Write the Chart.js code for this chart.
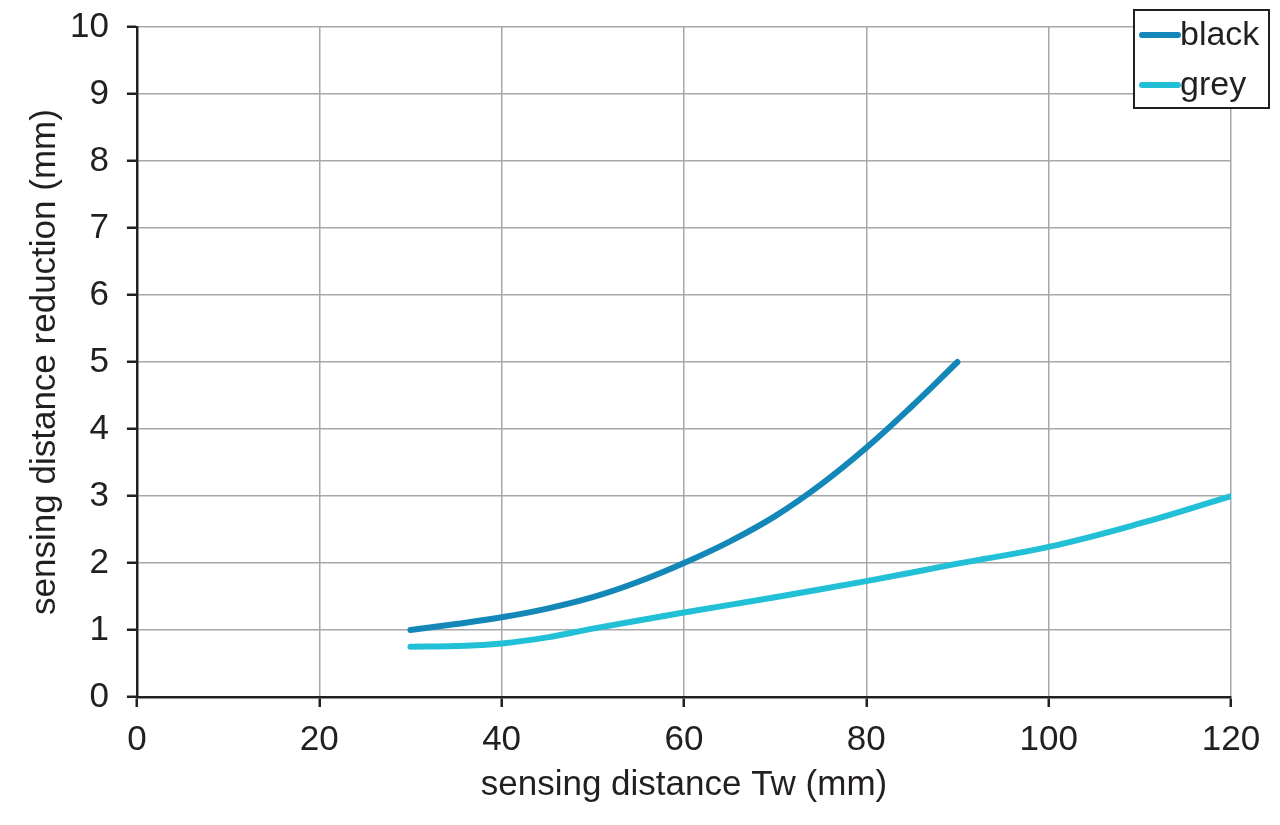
<!DOCTYPE html>
<html>
<head>
<meta charset="utf-8">
<script src="https://cdn.jsdelivr.net/npm/chart.js@4.4.1/dist/chart.umd.min.js"></script>
<style>
  html, body { margin: 0; padding: 0; background: #fff; }
  #wrap { width: 1280px; height: 825px; }
</style>
</head>
<body>
<div id="wrap"><canvas id="c"></canvas></div>
<script>
// values
const blackX = [30, 35, 40, 45, 50, 55, 60, 65, 70, 75, 80, 85, 90];
const blackY = [1.0, 1.09, 1.19, 1.32, 1.49, 1.72, 2.0, 2.32, 2.7, 3.17, 3.72, 4.34, 5.0];
const greyX = [30, 35, 40, 45, 50, 60, 70, 80, 90, 100, 110, 120];
const greyY = [0.75, 0.76, 0.8, 0.89, 1.02, 1.26, 1.49, 1.73, 1.99, 2.24, 2.59, 3.0];
const seriesNames = ['black', 'grey'];
const xTicks = [0, 20, 40, 60, 80, 100, 120];

const BLUE = '#1487b9';
const CYAN = '#22c0d6';
const INK = '#231f20';
const FONT = '"Liberation Sans", Arial, sans-serif';

const toPts = (xs, ys) => xs.map((x, i) => ({ x: x, y: ys[i] }));

// legend box in the top right corner, like the original
const boxLegend = {
  id: 'boxLegend',
  afterDraw(chart) {
    const ctx = chart.ctx;
    const x0 = 1134, y0 = 10, w = 135, h = 98;
    ctx.save();
    ctx.fillStyle = '#fff';
    ctx.fillRect(x0, y0, w, h);
    ctx.strokeStyle = INK;
    ctx.lineWidth = 2;
    ctx.strokeRect(x0, y0, w, h);
    ctx.font = '34px ' + FONT;
    ctx.textBaseline = 'middle';
    chart.data.datasets.forEach((ds, i) => {
      const yy = y0 + 25 + i * 50;
      ctx.strokeStyle = ds.borderColor;
      ctx.lineWidth = 6;
      ctx.lineCap = 'round';
      ctx.beginPath();
      ctx.moveTo(x0 + 8, yy);
      ctx.lineTo(x0 + 44, yy);
      ctx.stroke();
      ctx.fillStyle = INK;
      ctx.fillText(ds.label, x0 + 46, yy + 1);
    });
    ctx.restore();
  }
};

new Chart(document.getElementById('c'), {
  type: 'line',
  data: {
    datasets: [{
      label: seriesNames[0],
      data: toPts(blackX, blackY),
      borderColor: BLUE,
      borderWidth: 6,
      borderCapStyle: 'round',
      pointRadius: 0,
      tension: 0.4
    }, {
      label: seriesNames[1],
      data: toPts(greyX, greyY),
      borderColor: CYAN,
      borderWidth: 6,
      borderCapStyle: 'round',
      pointRadius: 0,
      tension: 0.4
    }]
  },
  options: {
    responsive: true,
    maintainAspectRatio: false,
    animation: false,
    layout: { padding: { top: 0, right: 49, bottom: 19, left: 12 } },
    plugins: {
      legend: { display: false },
      tooltip: { enabled: false }
    },
    scales: {
      x: {
        type: 'linear',
        min: 0,
        max: 120,
        afterBuildTicks: axis => { axis.ticks = xTicks.map(v => ({ value: v })); },
        ticks: { color: INK, font: { size: 35, family: FONT }, padding: 12, maxRotation: 0 },
        grid: { color: '#a7a7a7', lineWidth: 1.5, tickColor: INK, tickLength: 10, tickWidth: 2.5 },
        border: { color: INK, width: 2.5 },
        title: { display: true, text: 'sensing distance Tw (mm)', color: INK, font: { size: 35, family: FONT }, padding: { top: -9, bottom: 0 } }
      },
      y: {
        min: 0,
        max: 10,
        // keep the top label overflow small so the plot starts near the top edge
        afterFit: s => { s.paddingTop = 27; },
        ticks: { stepSize: 1, color: INK, font: { size: 35, family: FONT }, padding: 18 },
        grid: { color: '#a7a7a7', lineWidth: 1.5, tickColor: INK, tickLength: 10, tickWidth: 2.5 },
        border: { color: INK, width: 2.5 },
        title: { display: true, text: 'sensing distance reduction (mm)', color: INK, font: { size: 35, family: FONT }, padding: { top: 12, bottom: -14 } }
      }
    }
  },
  plugins: [boxLegend]
});
</script>
</body>
</html>
